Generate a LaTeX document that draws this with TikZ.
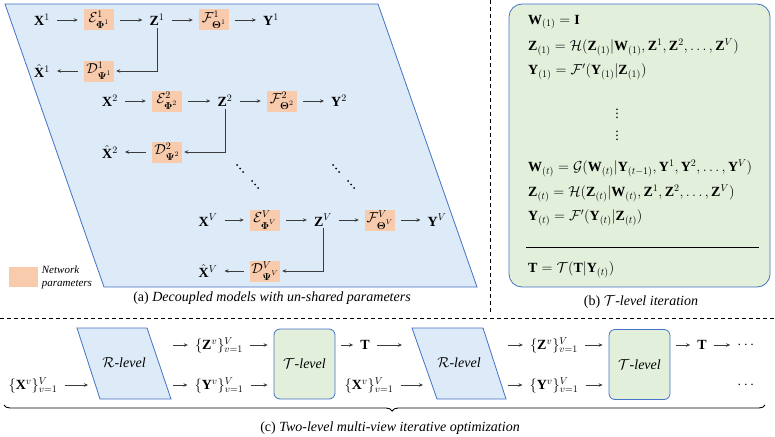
\documentclass[tikz,border=0pt]{standalone}
\usepackage{amsmath,bm}
\usepackage{fontspec}
\setmainfont{Liberation Serif}
\usetikzlibrary{arrows.meta,decorations.pathreplacing}
\definecolor{viewblue}{RGB}{221,234,247}
\definecolor{edgeblue}{RGB}{68,114,196}
\definecolor{netorange}{RGB}{248,203,173}
\definecolor{levelgreen}{RGB}{226,239,218}
\definecolor{arrowgrey}{RGB}{60,60,60}
\tikzset{
  net/.style={fill=netorange, minimum width=30pt, minimum height=21pt, inner sep=1pt},
  var/.style={inner sep=1pt},
  flow/.style={
    -{Stealth[length=4pt,width=3.5pt]},
    draw=arrowgrey,
    line width=0.8pt,
    shorten <=6pt,
    shorten >=6pt,
  },
  level/.style={draw=edgeblue, line width=0.8pt},
  sep/.style={dash pattern=on 4pt off 3pt, line width=0.9pt},
  eq/.style={anchor=west, inner sep=1pt},
}

\begin{document}
\begin{tikzpicture}[x=1pt, y=-1pt, font=\fontsize{14}{16}\selectfont]
            \useasboundingbox (0,0) rectangle (775,436);

            % (a) Decoupled models
            \draw[level, fill=viewblue] (5,4) -- (378,4) -- (477,287) -- (104,287) -- cycle;

            \foreach \v/\x/\y in {1/42/20, 2/110/101, V/208/220} {
                \node[var] (X\v) at (\x,\y) {$\mathbf{X}^{\v}$};
                \node[net] (E\v) at (\x+57,\y) {$\mathcal{E}^{\v}_{\bm{\Phi}^{\v}}$};
                \node[var] (Z\v) at (\x+115,\y) {$\mathbf{Z}^{\v}$};
                \node[net] (F\v) at (\x+172,\y) {$\mathcal{F}^{\v}_{\bm{\Theta}^{\v}}$};
                \node[var] (Y\v) at (\x+229,\y) {$\mathbf{Y}^{\v}$};
                \node[var] (Xh\v) at (\x,\y+51) {$\hat{\mathbf{X}}^{\v}$};
                \node[net] (D\v) at (\x+57,\y+51) {$\mathcal{D}^{\v}_{\bm{\Psi}^{\v}}$};

                \draw[flow] (X\v) -- (E\v);
                \draw[flow] (E\v) -- (Z\v);
                \draw[flow] (Z\v) -- (F\v);
                \draw[flow] (F\v) -- (Y\v);
                \draw[flow] (D\v) -- (Xh\v);
                \draw[flow, shorten <=1pt, shorten >=2pt] (Z\v.south) |- (D\v.east);
            }

            % Dots between the views
            \foreach \cx in {240,336} {
                \foreach \dx/\dy in {0/0, 3/3.5, 6/7, 15/16, 18/19.5, 21/23} {
                    \fill (\cx-3+\dx,165+\dy) circle (1pt);
                }
            }

            % Legend
            \node[fill=netorange, minimum width=29pt, minimum height=20pt] (legend) at (23,277) {};
            \node[anchor=west, align=left, inner sep=0pt, xshift=4pt, font=\fontsize{11}{13}\selectfont\itshape]
                (legendtext) at (legend.east) {Network\\parameters};

            \node (capa) at (272,298) {(a) \textit{Decoupled models with un-shared parameters}};

            % Separators
            \draw[sep] (490,0) -- (490,313);
            \draw[sep] (0,318) -- (775,318);

            % (b) T-level iteration
            \draw[level, fill=levelgreen, rounded corners=13pt] (509,4) rectangle (770,287);
            \node[eq] (eqW1) at (527,22) {$\mathbf{W}_{(1)} = \mathbf{I}$};
            \node[eq] (eqZ1) at (527,47) {$\mathbf{Z}_{(1)} = \mathcal{H}(\mathbf{Z}_{(1)}|\mathbf{W}_{(1)},\mathbf{Z}^1,\mathbf{Z}^2,\dots,\mathbf{Z}^V)$};
            \node[eq] (eqY1) at (527,72) {$\mathbf{Y}_{(1)} = \mathcal{F}'(\mathbf{Y}_{(1)}|\mathbf{Z}_{(1)})$};
            \node (vd1) at (617,111) {$\vdots$};
            \node (vd2) at (617,133) {$\vdots$};
            \node[eq] (eqWt) at (527,168) {$\mathbf{W}_{(t)} = \mathcal{G}(\mathbf{W}_{(t)}|\mathbf{Y}_{(t-1)},\mathbf{Y}^1,\mathbf{Y}^2,\dots,\mathbf{Y}^V)$};
            \node[eq] (eqZt) at (527,193) {$\mathbf{Z}_{(t)} = \mathcal{H}(\mathbf{Z}_{(t)}|\mathbf{W}_{(t)},\mathbf{Z}^1,\mathbf{Z}^2,\dots,\mathbf{Z}^V)$};
            \node[eq] (eqYt) at (527,218) {$\mathbf{Y}_{(t)} = \mathcal{F}'(\mathbf{Y}_{(t)}|\mathbf{Z}_{(t)})$};
            \draw[line width=0.9pt] (526,247) -- (759,247);
            \node[eq] (eqT) at (527,270) {$\mathbf{T} = \mathcal{T}(\mathbf{T}|\mathbf{Y}_{(t)})$};

            \node (capb) at (641,302) {(b) $\mathcal{T}$\textit{-level iteration}};

            % (c) Two-level optimization
            \draw[level, fill=viewblue] (77,328) -- (147,328) -- (171,399) -- (100,399) -- cycle;
            \draw[level, fill=viewblue] (412,328) -- (483,328) -- (506,399) -- (437,399) -- cycle;
            \node (R1) at (124,363) {$\mathcal{R}$\textit{-level}};
            \node (R2) at (459,363) {$\mathcal{R}$\textit{-level}};
            \node[level, fill=levelgreen, rounded corners=6pt, minimum width=61pt, minimum height=70pt] (T1) at (304.5,364) {$\mathcal{T}$\textit{-level}};
            \node[level, fill=levelgreen, rounded corners=6pt, minimum width=61pt, minimum height=70pt] (T2) at (639.5,364.5) {$\mathcal{T}$\textit{-level}};

            \coordinate (R1in) at (94,385);
            \coordinate (R1outA) at (167,345);
            \coordinate (R1outB) at (167,385);
            \coordinate (R2inA) at (408,345);
            \coordinate (R2inB) at (429,385);
            \coordinate (R2outA) at (502,345);
            \coordinate (R2outB) at (502,385);

            \node[var] (Xs1) at (33,385) {$\{\mathbf{X}^v\}_{v=1}^V$};
            \node[var] (Zs1) at (219,345) {$\{\mathbf{Z}^v\}_{v=1}^V$};
            \node[var] (Ys1) at (219,385) {$\{\mathbf{Y}^v\}_{v=1}^V$};
            \node[var] (Tt1) at (365,345) {$\mathbf{T}$};
            \node[var] (Xs2) at (369,385) {$\{\mathbf{X}^v\}_{v=1}^V$};
            \node[var] (Zs2) at (554,345) {$\{\mathbf{Z}^v\}_{v=1}^V$};
            \node[var] (Ys2) at (554,385) {$\{\mathbf{Y}^v\}_{v=1}^V$};
            \node[var] (Tt2) at (702,345) {$\mathbf{T}$};
            \node[var] (more1) at (747,345) {$\cdots$};
            \node[var] (more2) at (747,385) {$\cdots$};

            \draw[flow] (Xs1) -- (R1in);
            \draw[flow] (R1outA) -- (Zs1);
            \draw[flow] (R1outB) -- (Ys1);
            \draw[flow] (Zs1.east) -- (Zs1.east -| T1.west);
            \draw[flow] (Ys1.east) -- (Ys1.east -| T1.west);
            \draw[flow] (Tt1.west -| T1.east) -- (Tt1.west);
            \draw[flow] (Tt1) -- (R2inA);
            \draw[flow] (Xs2) -- (R2inB);
            \draw[flow] (R2outA) -- (Zs2);
            \draw[flow] (R2outB) -- (Ys2);
            \draw[flow] (Zs2.east) -- (Zs2.east -| T2.west);
            \draw[flow] (Ys2.east) -- (Ys2.east -| T2.west);
            \draw[flow] (Tt2.west -| T2.east) -- (Tt2.west);
            \draw[flow] (Tt2) -- (more1);

            % Brace
            \draw[line width=0.9pt, decorate, decoration={brace, mirror, amplitude=6pt, aspect=0.51}]
                (4,405) -- (765,405);
            \node (capc) at (390,428) {(c) \textit{Two-level multi-view iterative optimization}};
          \end{tikzpicture}
\end{document}
